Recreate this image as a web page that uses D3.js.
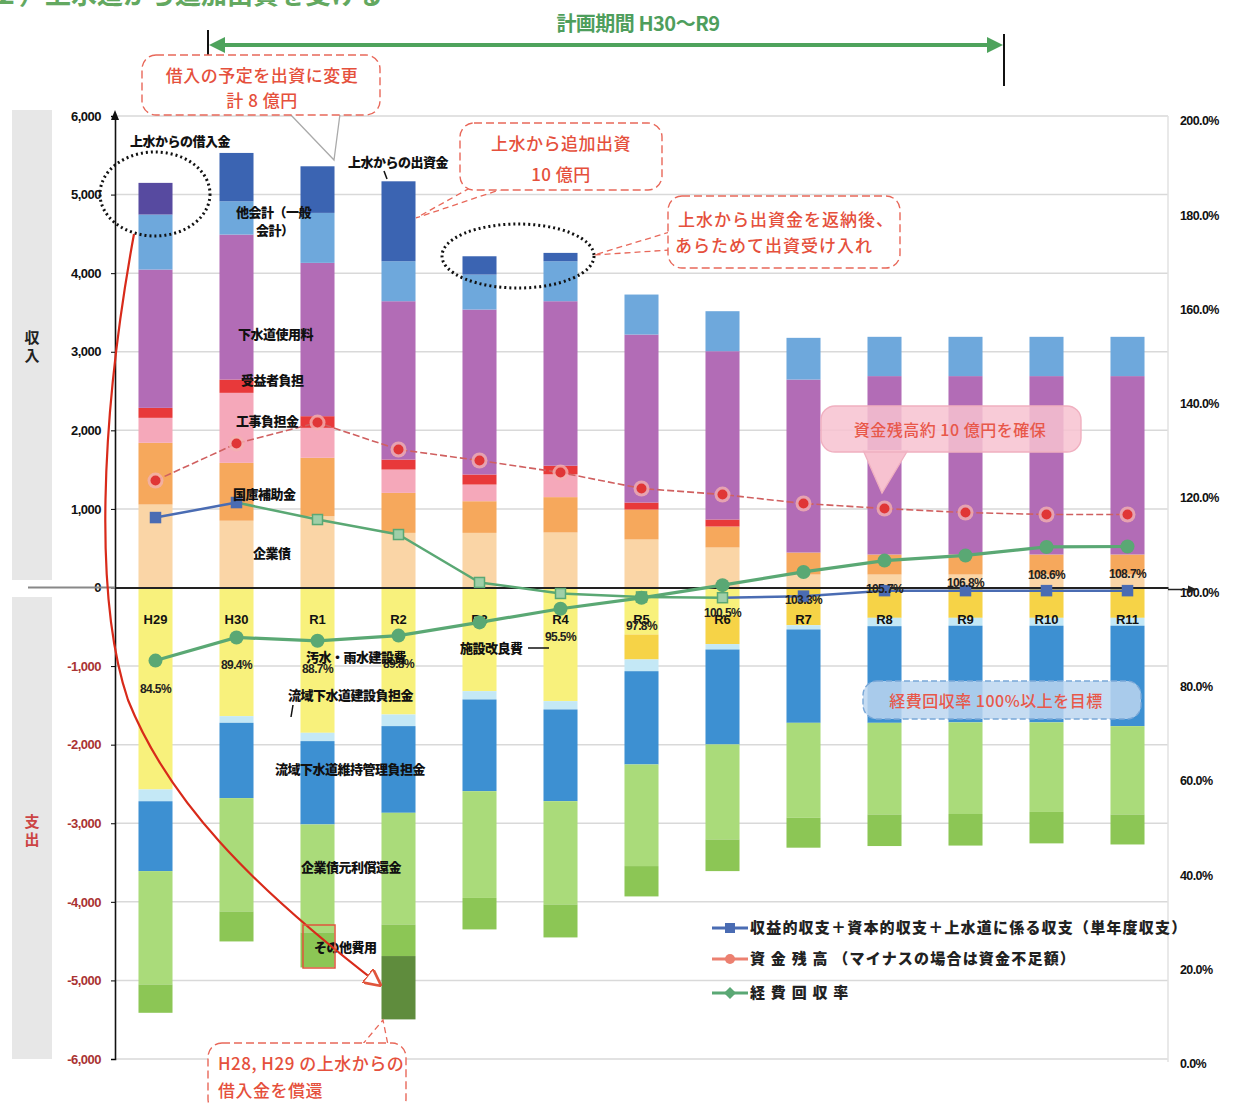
<!DOCTYPE html>
<html><head><meta charset="utf-8">
<script src="https://cdn.jsdelivr.net/npm/d3@7"></script>
<style>
body{margin:0;background:#fff;}
svg{display:block;}
text{font-family:"Liberation Sans","Noto Sans CJK JP",sans-serif;}
.jp{font-family:"Noto Sans CJK JP",sans-serif;}
</style></head>
<body><svg id="c" width="1237" height="1104"></svg>
<script>
// ---------- data ----------
const categories = ["H29","H30","R1","R2","R3","R4","R5","R6","R7","R8","R9","R10","R11"];
// income (百万円) bottom-up
const kigyosai      = [1056, 850, 907, 695, 695, 700, 611, 509, 165, 165, 165, 165, 165];
const kokkoHojokin  = [785, 736, 743, 509, 403, 450, 381, 267, 280, 255, 255, 255, 255];
const kojiFutankin  = [318, 891, 382, 297, 212, 290, 0, 0, 0, 0, 0, 0, 0];
const jiekishaFutan = [127, 169, 148, 127, 128, 110, 89, 89, 0, 0, 0, 0, 0];
const shiyoryo      = [1760, 1845, 1951, 2015, 2099, 2093, 2138, 2142, 2201, 2270, 2270, 2270, 2270];
const takaikei      = [700, 424, 636, 509, 445, 509, 509, 509, 531, 500, 500, 500, 500];
const josuiKariire  = [403, 0, 0, 0, 0, 0, 0, 0, 0, 0, 0, 0, 0];
const josuiShusshi  = [0, 615, 593, 1017, 233, 106, 0, 0, 0, 0, 0, 0, 0];
// expenses (百万円) top-down
const osuiUsui       = [2570, 1637, 1849, 1616, 1319, 1446, 598, 350, 0, 0, 0, 0, 0];
const shisetsuKairyo = [0, 0, 0, 0, 0, 0, 318, 370, 480, 386, 386, 386, 386];
const ryuikiKensetsu = [150, 85, 106, 148, 106, 106, 149, 69, 54, 106, 100, 100, 100];
const ryuikiIji      = [889, 958, 1060, 1103, 1167, 1167, 1187, 1208, 1188, 1230, 1230, 1230, 1278];
const kisaiShokan    = [1442, 1442, 1374, 1421, 1358, 1314, 1293, 1209, 1208, 1166, 1166, 1140, 1124];
const sonota         = [361, 382, 446, 402, 401, 420, 386, 403, 381, 402, 402, 400, 382];
const josuiHensai    = [0, 0, 0, 806, 0, 0, 0, 0, 0, 0, 0, 0, 0];
// lines
const tannendo      = [890, 1081, 865, 674, 64, -76, -120, -130, -110, -40, -40, -40, -40];
const shikinZandaka = [1361, 1832, 2099, 1756, 1616, 1463, 1260, 1183, 1069, 1005, 954, 929, 929];
const kaishuRitsu   = [84.5, 89.4, 88.7, 89.8, 92.6, 95.5, 97.8, 100.5, 103.3, 105.7, 106.8, 108.6, 108.7];
const kaishuLabels  = ["84.5%","89.4%","88.7%","89.8%","","95.5%","97.8%","100.5%","103.3%","105.7%","106.8%","108.6%","108.7%"];
const leftTicks  = [-6000,-5000,-4000,-3000,-2000,-1000,0,1000,2000,3000,4000,5000,6000];
const rightTicks = [0,0.2,0.4,0.6,0.8,1.0,1.2,1.4,1.6,1.8,2.0];

// ---------- build table ----------
const incomeKeys  = ["企業債","国庫補助金","工事負担金","受益者負担","下水道使用料","他会計","上水からの借入金","上水からの出資金"];
const incomeArr   = [kigyosai,kokkoHojokin,kojiFutankin,jiekishaFutan,shiyoryo,takaikei,josuiKariire,josuiShusshi];
const expenseKeys = ["汚水・雨水建設費","施設改良費","流域下水道建設負担金","流域下水道維持管理負担金","企業債元利償還金","その他費用","上水への償還"];
const expenseArr  = [osuiUsui,shisetsuKairyo,ryuikiKensetsu,ryuikiIji,kisaiShokan,sonota,josuiHensai];
const colors = {
  "企業債":"#fad5a6","国庫補助金":"#f6a85c","工事負担金":"#f5a8ba","受益者負担":"#e8393a",
  "下水道使用料":"#b26cb6","他会計":"#6ea8dc","上水からの借入金":"#574aa0","上水からの出資金":"#3b64b2",
  "汚水・雨水建設費":"#f8f17c","施設改良費":"#f6d347","流域下水道建設負担金":"#c4e8f6",
  "流域下水道維持管理負担金":"#3d90d2","企業債元利償還金":"#aadb7a","その他費用":"#8cc655","上水への償還":"#5f8c3d"
};
const rows = categories.map((c,i)=>{
  const r={cat:c};
  incomeKeys.forEach((k,j)=>r[k]=incomeArr[j][i]);
  expenseKeys.forEach((k,j)=>r[k]=-expenseArr[j][i]);
  return r;
});
const keys = incomeKeys.concat(expenseKeys);
const stacked = d3.stack().keys(keys).offset(d3.stackOffsetDiverging)(rows);

// ---------- scales ----------
const svg = d3.select("#c");
const x = d3.scaleBand().domain(categories).range([115,1168]).paddingInner(0.58).paddingOuter(0.29);
const y = d3.scaleLinear().domain([-6000,6000]).range([1059,116]);
const yR = d3.scaleLinear().domain([0,2]).range([1059,116]);
const cx = c => x(c)+x.bandwidth()/2;

// left side panels
svg.append("rect").attr("x",12).attr("y",110).attr("width",40).attr("height",470).attr("fill","#e7e7e7");
svg.append("rect").attr("x",12).attr("y",597).attr("width",40).attr("height",462).attr("fill","#e7e7e7");
svg.append("text").attr("class","jp").attr("x",32).attr("y",343).attr("text-anchor","middle").attr("font-size",15).attr("font-weight","bold").attr("fill","#222").text("収");
svg.append("text").attr("class","jp").attr("x",32).attr("y",361).attr("text-anchor","middle").attr("font-size",15).attr("font-weight","bold").attr("fill","#222").text("入");
svg.append("text").attr("class","jp").attr("x",32).attr("y",827).attr("text-anchor","middle").attr("font-size",15).attr("font-weight","bold").attr("fill","#c44").text("支");
svg.append("text").attr("class","jp").attr("x",32).attr("y",845).attr("text-anchor","middle").attr("font-size",15).attr("font-weight","bold").attr("fill","#c44").text("出");

// gridlines
svg.append("g").selectAll("line").data(leftTicks.filter(d=>d!==0)).join("line")
  .attr("x1",115).attr("x2",1168).attr("y1",d=>y(d)).attr("y2",d=>y(d))
  .attr("stroke","#d9d9d9").attr("stroke-width",1.5);
svg.append("line").attr("x1",1168).attr("x2",1168).attr("y1",116).attr("y2",1062).attr("stroke","#e2e2e2").attr("stroke-width",1.5);

// bars
svg.append("g").selectAll("g").data(stacked).join("g").attr("fill",d=>colors[d.key])
  .selectAll("rect").data(d=>d).join("rect")
  .attr("x",d=>x(d.data.cat)).attr("width",x.bandwidth())
  .attr("y",d=>y(d[1])).attr("height",d=>Math.max(0,y(d[0])-y(d[1])));

// axes
const fmt = d => (d<0?"-":"")+d3.format(",")(Math.abs(d));
const gL = svg.append("g").attr("transform","translate(115,0)")
  .call(d3.axisLeft(y).tickValues(leftTicks).tickFormat(fmt).tickSize(4).tickPadding(10));
gL.select(".domain").attr("stroke","#111").attr("stroke-width",1.6);
gL.selectAll("text").attr("font-size",13).attr("font-weight","bold")
  .attr("fill",d=>d<0?"#a33":"#111").attr("letter-spacing","-0.5");
svg.append("path").attr("d","M115,110 L111,120 L119,120 Z").attr("fill","#111");

const gR = svg.append("g").attr("transform","translate(1170,0)")
  .call(d3.axisRight(yR).tickValues(rightTicks).tickFormat(d3.format(".1%")).tickSize(0).tickPadding(10));
gR.select(".domain").remove();
gR.selectAll("text").attr("font-size",12.5).attr("font-weight","bold").attr("fill","#111").attr("dy","0.7em").attr("letter-spacing","-0.6");

// zero axis
svg.append("line").attr("x1",28).attr("x2",115).attr("y1",y(0)).attr("y2",y(0)).attr("stroke","#888").attr("stroke-width",2);
const gX = svg.append("g").attr("transform",`translate(0,${y(0)})`)
  .call(d3.axisBottom(x).tickSize(0).tickPadding(27));
gX.select(".domain").attr("stroke","#222").attr("stroke-width",2);
gX.selectAll("text").attr("font-size",13).attr("font-weight","bold").attr("fill","#111");
svg.append("line").attr("x1",1168).attr("x2",1190).attr("y1",y(0)+2).attr("y2",y(0)+2).attr("stroke","#222").attr("stroke-width",1.5);
svg.append("path").attr("d",`M1197,${y(0)+2} l-9,-4 l0,8 Z`).attr("fill","#222");

// ---------- lines ----------
// 単年度収支
const tPts = categories.map((c,i)=>[cx(c),y(tannendo[i])]);
const segColor = i => (i===0 || i>=7) ? "#4a6cb3" : "#5aa874";
svg.append("g").selectAll("line").data(d3.pairs(tPts)).join("line")
  .attr("x1",d=>d[0][0]).attr("y1",d=>d[0][1]).attr("x2",d=>d[1][0]).attr("y2",d=>d[1][1])
  .attr("stroke",(d,i)=>segColor(i)).attr("stroke-width",2.5);
svg.append("g").selectAll("rect").data(tPts).join("rect")
  .attr("x",d=>d[0]-5).attr("y",d=>d[1]-5).attr("width",10).attr("height",10)
  .attr("fill",(d,i)=> (i<=1||i>=8)?"#4a6cb3":"#9fcfa8").attr("stroke",(d,i)=>(i<=1||i>=8)?"#4a6cb3":"#5aa874").attr("stroke-width",1.5);

// 資金残高
const zLine = d3.line().x((d,i)=>cx(categories[i])).y(d=>y(d));
svg.append("path").datum(shikinZandaka).attr("d",zLine).attr("fill","none")
  .attr("stroke","#d06060").attr("stroke-width",1.6).attr("stroke-dasharray","7,3");
svg.append("g").selectAll("circle").data(shikinZandaka).join("circle")
  .attr("cx",(d,i)=>cx(categories[i])).attr("cy",d=>y(d)).attr("r",8)
  .attr("fill","#f3b0b0").attr("opacity",0.8);
svg.append("g").selectAll("circle").data(shikinZandaka).join("circle")
  .attr("cx",(d,i)=>cx(categories[i])).attr("cy",d=>y(d)).attr("r",5)
  .attr("fill","#e03636");

// 経費回収率
const kLine = d3.line().x((d,i)=>cx(categories[i])).y(d=>yR(d/100));
svg.append("path").datum(kaishuRitsu).attr("d",kLine).attr("fill","none")
  .attr("stroke","#5aa874").attr("stroke-width",3.2);
svg.append("g").selectAll("circle").data(kaishuRitsu).join("circle")
  .attr("cx",(d,i)=>cx(categories[i])).attr("cy",d=>yR(d/100)).attr("r",7)
  .attr("fill","#5aa874");
svg.append("g").selectAll("text").data(kaishuLabels).join("text")
  .attr("x",(d,i)=>cx(categories[i])).attr("y",(d,i)=>yR(kaishuRitsu[i]/100)+32)
  .attr("text-anchor","middle").attr("font-size",12).attr("font-weight","bold")
  .attr("letter-spacing","-0.6").attr("fill","#222").text(d=>d);

// ---------- in-chart labels ----------
const lab = (t,xx,yy,opt={}) => svg.append("text").attr("class","jp").attr("x",xx).attr("y",yy)
  .attr("font-size",opt.size||13).attr("font-weight",opt.w||"900").attr("fill",opt.fill||"#111")
  .attr("text-anchor",opt.anchor||"start").attr("letter-spacing",opt.ls||"-0.5").text(t);
lab("上水からの借入金",130,146);
lab("上水からの出資金",348,167);
svg.append("line").attr("x1",384).attr("y1",171).attr("x2",387).attr("y2",179).attr("stroke","#111").attr("stroke-width",1.5);
lab("他会計（一般",236,217);
lab("会計）",256,235);
lab("下水道使用料",238,339);
lab("受益者負担",241,385);
lab("工事負担金",236,426);
lab("国庫補助金",233,499);
lab("企業債",253,558);
lab("汚水・雨水建設費",306,662);
lab("流域下水道建設負担金",288,700);
svg.append("line").attr("x1",293).attr("y1",705).attr("x2",291).attr("y2",717).attr("stroke","#111").attr("stroke-width",1.5);
lab("流域下水道維持管理負担金",275,774);
lab("企業債元利償還金",301,872);
lab("その他費用",314,952);
lab("施設改良費",460,653);
svg.append("line").attr("x1",528).attr("y1",648).attr("x2",549).attr("y2",648).attr("stroke","#111").attr("stroke-width",1.5);

// dotted ellipses
svg.append("ellipse").attr("cx",155).attr("cy",194).attr("rx",55).attr("ry",42)
  .attr("fill","none").attr("stroke","#111").attr("stroke-width",3).attr("stroke-dasharray","2,3");
svg.append("ellipse").attr("cx",518).attr("cy",256).attr("rx",76).attr("ry",32)
  .attr("fill","none").attr("stroke","#111").attr("stroke-width",3).attr("stroke-dasharray","2,3");

// red curved arrow
svg.append("defs").append("marker").attr("id","ah").attr("viewBox","0 0 10 10").attr("refX",9).attr("refY",5)
  .attr("markerWidth",8).attr("markerHeight",8).attr("orient","auto")
  .append("path").attr("d","M0,0 L10,5 L0,10 Z").attr("fill","#fff").attr("stroke","#e0553c").attr("stroke-width",1.5);
svg.append("path").attr("d","M134,234 C100,420 94,600 128,700 C168,800 250,885 380,985")
  .attr("fill","none").attr("stroke","#d82a1a").attr("stroke-width",2.2).attr("marker-end","url(#ah)");
svg.append("rect").attr("x",303).attr("y",925).attr("width",32).attr("height",43)
  .attr("fill","none").attr("stroke","#e0553c").attr("stroke-width",1.5);

// ---------- header ----------
svg.append("text").attr("class","jp").attr("x",383).attr("y",4).attr("text-anchor","end")
  .attr("font-size",26).attr("font-weight","bold").attr("fill","#63a860").text("（２）上水道から追加出資を受ける");
svg.append("text").attr("class","jp").attr("x",638).attr("y",31).attr("text-anchor","middle")
  .attr("font-size",20).attr("font-weight","bold").attr("fill","#4e9e5c").attr("letter-spacing","-0.5").text("計画期間 H30～R9");
svg.append("line").attr("x1",216).attr("x2",996).attr("y1",45).attr("y2",45).attr("stroke","#4ea35c").attr("stroke-width",4);
svg.append("path").attr("d","M209,45 l16,-8 l0,16 Z").attr("fill","#4ea35c");
svg.append("path").attr("d","M1003,45 l-16,-8 l0,16 Z").attr("fill","#4ea35c");
svg.append("line").attr("x1",208).attr("x2",208).attr("y1",30).attr("y2",96).attr("stroke","#111").attr("stroke-width",2);
svg.append("line").attr("x1",1004).attr("x2",1004).attr("y1",34).attr("y2",86).attr("stroke","#111").attr("stroke-width",2);

// ---------- callouts ----------
function callout(bx,by,bw,bh,tail,lines,opt={}){
  const g = svg.append("g");
  if(tail) g.append("path").attr("d",tail).attr("fill",opt.fill||"#fff").attr("stroke",opt.tailStroke||"#e8685a")
    .attr("stroke-width",1.3).attr("stroke-dasharray",opt.tailDash||"6,4").attr("opacity",opt.tailOp||1);
  g.append("rect").attr("x",bx).attr("y",by).attr("width",bw).attr("height",bh).attr("rx",14)
    .attr("fill",opt.fill||"#fff").attr("fill-opacity",opt.fop||1)
    .attr("stroke",opt.stroke||"#e8685a").attr("stroke-width",1.4).attr("stroke-dasharray",opt.dash||"8,4");
  lines.forEach(l=>g.append("text").attr("class","jp").attr("x",l[1]).attr("y",l[2])
    .attr("text-anchor",l[3]||"middle").attr("font-size",opt.size||17).attr("font-weight","500")
    .attr("fill",opt.tc||"#e5503c").attr("letter-spacing",opt.ls||"0.5").text(l[0]));
}
callout(142,55,238,60,"M290,114 L334,160 L340,114",[["借入の予定を出資に変更",262,82],["計 8 億円",262,107]],{tailStroke:"#aaa",tailDash:"none"});
callout(460,123,202,67,"M470,188 L416,218 L505,188",[["上水から追加出資",561,150],["10 億円",561,181]]);
callout(668,196,232,72,"M670,232 L594,255 L670,250",[["上水から出資金を返納後、",786,226],["あらためて出資受け入れ",774,252]],{ls:"1"});
callout(821,406,260,46,"M863,450 L882,493 L908,450",[["資金残高約 10 億円を確保",950,436]],{fill:"#f7c2d0",fop:0.85,stroke:"#f0b0c0",dash:"none",tailStroke:"#f0b0c0",tailDash:"none",size:16,tc:"#e8584a"});
callout(863,681,278,38,null,[["経費回収率 100%以上を目標",996,707]],{fill:"#bcd6f0",fop:0.85,stroke:"#7aa8d8",dash:"6,3",size:16,tc:"#e8584a"});
callout(208,1043,198,70,"M362,1045 L383,1020 L388,1045",[["H28, H29 の上水からの",218,1070,"start"],["借入金を償還",218,1097,"start"]]);

// ---------- legend ----------
const legend = [
  {t:"収益的収支＋資本的収支＋上水道に係る収支（単年度収支）", c:"#4a6cb3", m:"rect", yy:928},
  {t:"資 金 残 高 （マイナスの場合は資金不足額）", c:"#ec8070", m:"circle", yy:959},
  {t:"経 費 回 収 率", c:"#5aa874", m:"diamond", yy:993}
];
const lg = svg.append("g").selectAll("g").data(legend).join("g");
lg.append("line").attr("x1",712).attr("x2",748).attr("y1",d=>d.yy).attr("y2",d=>d.yy).attr("stroke",d=>d.c).attr("stroke-width",3);
lg.append("path").attr("d",d=> d.m==="rect" ? `M725,${d.yy-5}h10v10h-10Z` : d.m==="circle" ? `M735,${d.yy}a5,5 0 1,1 -10,0a5,5 0 1,1 10,0` : `M730,${d.yy-6}l6,6l-6,6l-6,-6Z`).attr("fill",d=>d.c);
lg.append("text").attr("class","jp").attr("x",750).attr("y",d=>d.yy+5).attr("font-size",15).attr("font-weight","900")
  .attr("fill","#222").attr("letter-spacing","1.2").text(d=>d.t);
</script></body></html>
